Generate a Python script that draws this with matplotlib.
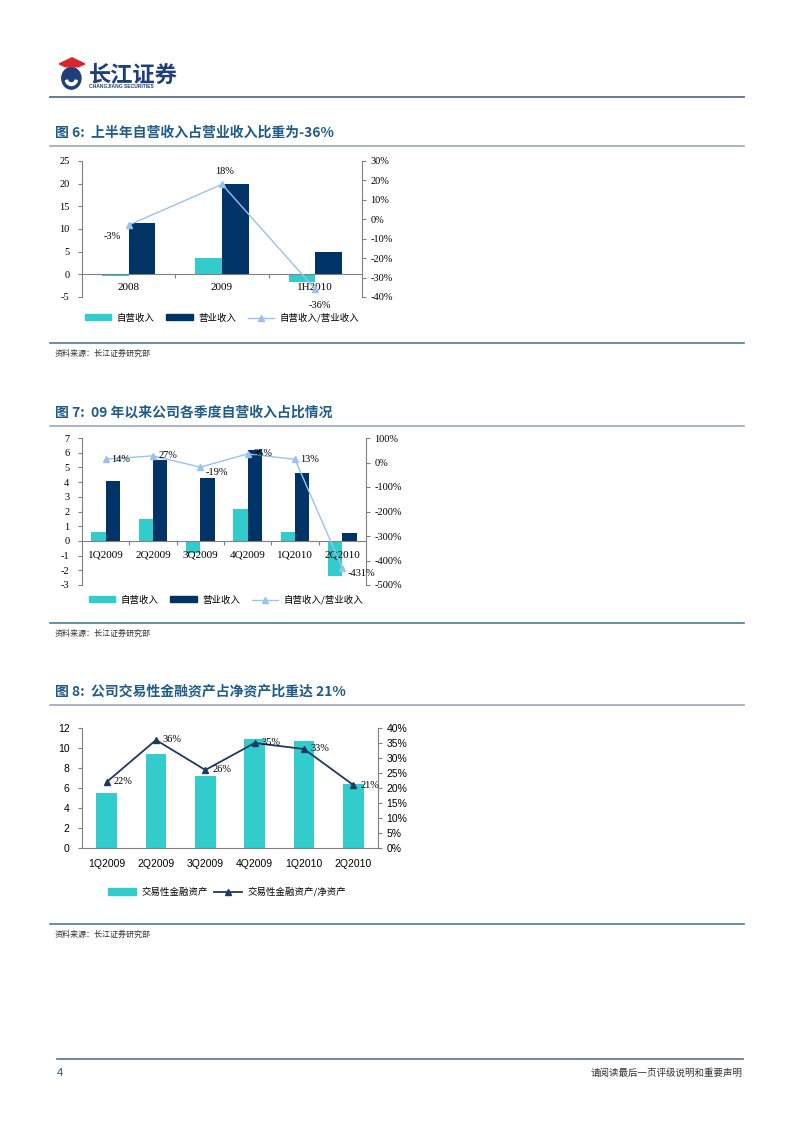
import matplotlib
matplotlib.use('Agg')
import matplotlib.pyplot as plt
import matplotlib.patches as mpatches
from matplotlib.lines import Line2D
from matplotlib.ticker import FuncFormatter

W, H = 802, 1133

# --- Chart 6 data ---
c6_cats = ['2008', '2009', '1H2010']
c6_self = [-0.3, 3.6, -1.8]
c6_total = [11.3, 20.0, 5.0]
c6_ratio = [-0.03, 0.18, -0.36]
c6_ratio_lbl = ['-3%', '18%', '-36%']

# --- Chart 7 data ---
c7_cats = ['1Q2009', '2Q2009', '3Q2009', '4Q2009', '1Q2010', '2Q2010']
c7_self = [0.6, 1.5, -0.8, 2.2, 0.6, -2.4]
c7_total = [4.1, 5.5, 4.3, 6.2, 4.6, 0.55]
c7_ratio = [0.14, 0.27, -0.19, 0.35, 0.13, -4.31]
c7_ratio_lbl = ['14%', '27%', '-19%', '35%', '13%', '-431%']

# --- Chart 8 data ---
c8_cats = ['1Q2009', '2Q2009', '3Q2009', '4Q2009', '1Q2010', '2Q2010']
c8_assets = [5.5, 9.4, 7.2, 10.9, 10.7, 6.4]
c8_ratio = [0.22, 0.36, 0.26, 0.35, 0.33, 0.21]
c8_ratio_lbl = ['22%', '36%', '26%', '35%', '33%', '21%']

CYAN = '#33CCCC'
NAVY = '#003366'
LIGHT = '#99C2F0'
TITLE_C = '#1F5C8A'
GRAY = '#808080'
CJK = ['Noto Sans CJK SC', 'DejaVu Sans']
SERIF = ['Liberation Serif', 'DejaVu Serif']
SANS = ['Liberation Sans', 'DejaVu Sans']

plt.rcParams['font.family'] = SERIF
plt.rcParams['axes.linewidth'] = 0.8
plt.rcParams['axes.unicode_minus'] = False

fig = plt.figure(figsize=(W / 100, H / 100), dpi=100)


def fx(x):
    return x / W


def fy(y):
    return 1 - y / H


def rect(l, t, r, b):
    return [l / W, 1 - b / H, (r - l) / W, (b - t) / H]


def hline(y, x0=50, x1=744, color='#6F7F99', lw=1.2):
    fig.add_artist(Line2D([fx(x0), fx(x1)], [fy(y), fy(y)], color=color, lw=lw))


pct = FuncFormatter(lambda v, p: f'{v * 100:.0f}%')

# --- Header ---
logo = fig.add_axes(rect(56, 56, 88, 92))
logo.set_xlim(0, 1)
logo.set_ylim(0, 1)
logo.axis('off')
logo.add_patch(mpatches.Circle((0.48, 0.38), 0.3, color='#1F3F7A'))
logo.add_patch(mpatches.Wedge((0.48, 0.38), 0.2, 200, 340, color='white', width=0.07))
logo.add_patch(mpatches.Polygon([[0.1, 0.78], [0.5, 0.95], [0.9, 0.78], [0.7, 0.7], [0.3, 0.7]],
                                color='#D6262E'))
fig.text(fx(89), fy(75), '长江证券', family=CJK, fontsize=16, weight='bold',
         color='#1F3F7A', va='center', ha='left')
fig.text(fx(89), fy(87), 'CHANGJIANG SECURITIES', family=SANS, fontsize=3.6,
         weight='bold', color='#1F3F7A', va='center', ha='left')
hline(97, color='#5A6E8C', lw=1.3)


def title(y, s):
    fig.text(fx(55), fy(y), s, family=CJK, fontsize=10, weight='bold',
             color=TITLE_C, va='center', ha='left')
    hline(y + 13, color='#9AA8BC', lw=1.2)


def source(y):
    hline(y - 10, color='#4F7D96', lw=1.2)
    fig.text(fx(55), fy(y), '资料来源：长江证券研究部', family=CJK, fontsize=5.8,
             color='#333333', va='center', ha='left')


def style_left(ax):
    for s in ['top', 'right']:
        ax.spines[s].set_visible(False)
    ax.spines['left'].set_color(GRAY)
    ax.tick_params(axis='y', direction='out', length=3, color=GRAY, labelsize=7.5, pad=6)


def style_right(ax2):
    for s in ['top', 'left', 'bottom']:
        ax2.spines[s].set_visible(False)
    ax2.spines['right'].set_color(GRAY)
    ax2.tick_params(axis='y', direction='out', length=3, color=GRAY, labelsize=7.5, pad=3)
    ax2.yaxis.set_major_formatter(pct)


def bar_pair_chart(ax, cats, self_v, total_v, width, label_y):
    n = len(cats)
    xs = list(range(n))
    ax.bar([x - width / 2 for x in xs], self_v, width, color=CYAN)
    ax.bar([x + width / 2 for x in xs], total_v, width, color=NAVY)
    ax.set_xlim(-0.5, n - 0.5)
    ax.spines['bottom'].set_position(('data', 0))
    ax.spines['bottom'].set_color(GRAY)
    ax.set_xticks([x + 0.5 for x in xs[:-1]])
    ax.set_xticklabels([])
    ax.tick_params(axis='x', direction='out', length=3, color=GRAY)
    for x, c in zip(xs, cats):
        ax.text(x, label_y, c, ha='center', va='center', fontsize=8)


# --- Chart 6 ---
title(133, '图 6:  上半年自营收入占营业收入比重为-36%')
ax = fig.add_axes(rect(82, 161, 362, 297))
style_left(ax)
ax.set_ylim(-5, 25)
ax.set_yticks(range(-5, 26, 5))
bar_pair_chart(ax, c6_cats, c6_self, c6_total, 0.285, -3.0)
ax2 = ax.twinx()
style_right(ax2)
ax2.set_ylim(-0.4, 0.3)
ax2.set_yticks([-0.4, -0.3, -0.2, -0.1, 0, 0.1, 0.2, 0.3])
ax2.plot(range(3), c6_ratio, color=LIGHT, lw=1, marker='^', ms=5)
offs = [(-12, -8), (2, 9), (3, -12)]
for i, (v, l) in enumerate(zip(c6_ratio, c6_ratio_lbl)):
    ax2.annotate(l, (i, v), xytext=offs[i], textcoords='offset points',
                 ha='center', va='center', fontsize=7.5)

handles = [mpatches.Patch(color=CYAN), mpatches.Patch(color=NAVY),
           Line2D([], [], color=LIGHT, marker='^', ms=4, lw=1)]
labels = ['自营收入', '营业收入', '自营收入/营业收入']
fig.legend(handles, labels, loc='center', bbox_to_anchor=(fx(222), fy(318)), ncol=3,
           frameon=False, prop={'family': CJK, 'size': 6.8}, handlelength=2.8,
           handleheight=0.6, columnspacing=1.2, handletextpad=0.6)
source(353)

# --- Chart 7 ---
title(413, '图 7:  09 年以来公司各季度自营收入占比情况')
ax = fig.add_axes(rect(82, 438, 366, 585))
style_left(ax)
ax.set_ylim(-3, 7)
ax.set_yticks(range(-3, 8))
bar_pair_chart(ax, c7_cats, c7_self, c7_total, 0.3, -0.95)
ax2 = ax.twinx()
style_right(ax2)
ax2.set_ylim(-5, 1)
ax2.set_yticks([-5, -4, -3, -2, -1, 0, 1])
ax2.plot(range(6), c7_ratio, color=LIGHT, lw=1, marker='^', ms=5)
for i, (v, l) in enumerate(zip(c7_ratio, c7_ratio_lbl)):
    dy = -4 if v < 0 else 0
    ax2.annotate(l, (i, v), xytext=(4, dy), textcoords='offset points',
                 ha='left', va='center', fontsize=7.5)

fig.legend(handles, labels, loc='center', bbox_to_anchor=(fx(226), fy(600)), ncol=3,
           frameon=False, prop={'family': CJK, 'size': 6.8}, handlelength=2.8,
           handleheight=0.6, columnspacing=1.2, handletextpad=0.6)
source(633)

# --- Chart 8 ---
title(692, '图 8:  公司交易性金融资产占净资产比重达 21%')
ax = fig.add_axes(rect(82, 728, 378, 848))
style_left(ax)
ax.spines['bottom'].set_color(GRAY)
ax.set_ylim(0, 12)
ax.set_yticks(range(0, 13, 2))
ax.set_xlim(-0.5, 5.5)
ax.bar(range(6), c8_assets, 0.42, color=CYAN)
ax.set_xticks(range(6))
ax.set_xticklabels(c8_cats, family=SANS, fontsize=7.5)
ax.tick_params(axis='x', length=0, pad=8)
for t in ax.get_yticklabels():
    t.set_family(SANS)
ax2 = ax.twinx()
style_right(ax2)
ax2.set_ylim(0, 0.4)
ax2.set_yticks([i * 0.05 for i in range(9)])
for t in ax2.get_yticklabels():
    t.set_family(SANS)
ax2.plot(range(6), c8_ratio, color='#1F3864', lw=1.3, marker='^', ms=5)
for i, (v, l) in enumerate(zip(c8_ratio, c8_ratio_lbl)):
    ax2.annotate(l, (i, v), xytext=(5, 0), textcoords='offset points',
                 ha='left', va='center', fontsize=7.5)

handles8 = [mpatches.Patch(color=CYAN),
            Line2D([], [], color='#1F3864', marker='^', ms=4, lw=1.3)]
fig.legend(handles8, ['交易性金融资产', '交易性金融资产/净资产'], loc='center',
           bbox_to_anchor=(fx(227), fy(892)), ncol=2, frameon=False,
           prop={'family': CJK, 'size': 6.8}, handlelength=3.0, handleheight=0.7,
           columnspacing=0.6, handletextpad=0.6)
source(934)

# --- Footer ---
hline(1059, x0=57, x1=743, color='#5A6E8C', lw=1.2)
fig.text(fx(57), fy(1073), '4', family=SANS, fontsize=8, color='#1F4E79',
         ha='left', va='center')
fig.text(fx(743), fy(1073), '请阅读最后一页评级说明和重要声明', family=CJK, fontsize=6.8,
         color='#333333', ha='right', va='center')

fig.savefig('out.png', dpi=100)
